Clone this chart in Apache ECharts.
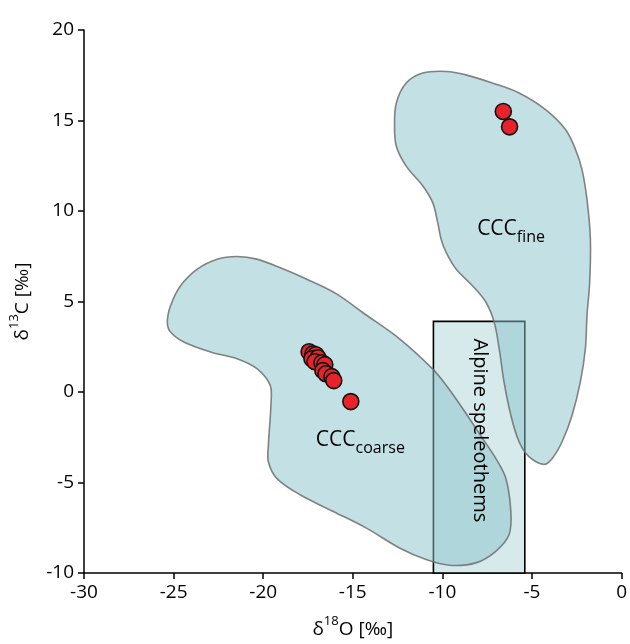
<!DOCTYPE html>
<html><head><meta charset="utf-8">
<script src="https://cdn.jsdelivr.net/npm/echarts@6/dist/echarts.min.js"></script>
<style>html,body{margin:0;padding:0;background:#fff}#c{width:630px;height:644px}</style>
</head><body><div id="c"></div>
<script>
// ---- data ----
const xTicks = [-30, -25, -20, -15, -10, -5, 0];
const yTicks = [-10, -5, 0, 5, 10, 15, 20];

const sampleX = [-17.44, -17.22, -17.06, -17.28, -16.94, -17.11, -16.72, -16.56, -16.67, -16.5, -16.17, -16.06, -15.11, -6.6, -6.25];
const sampleY = [2.22, 2.11, 2.06, 1.84, 1.89, 1.67, 1.62, 1.51, 1.18, 1.01, 0.85, 0.63, -0.53, 15.5, 14.65];

const coarseX = [-25.35,-25.17,-24.61,-23.68,-22.57,-21.46,-20.35,-18.87,-17.39,-15.91,-14.33,-12.39,-10.56,-9.79,-8.87,-7.76,-7.02,-6.46,-6.18,-6.28,-7.02,-8.13,-9.61,-10.91,-12.39,-14.24,-16.09,-17.94,-19.24,-19.71,-19.71,-19.57,-19.61,-20.35,-21.46,-22.94,-24.43,-25.17];
const coarseY = [3.86,4.77,5.87,6.79,7.34,7.49,7.34,6.79,6.15,5.42,4.31,2.94,1.29,0.37,-0.91,-2.56,-3.67,-4.77,-6.6,-7.89,-8.8,-9.44,-9.57,-9.26,-8.62,-7.52,-6.6,-5.68,-4.77,-3.85,-2.93,-0.73,0.37,1.29,1.84,2.21,2.76,3.31];

const fineX = [-12.67,-12.57,-12.02,-11.09,-9.79,-8.68,-7.21,-5.72,-4.24,-3.13,-2.57,-2.21,-1.93,-1.74,-1.78,-1.93,-2.02,-2.3,-2.76,-3.32,-3.87,-4.33,-5.17,-5.72,-6.18,-6.56,-6.83,-7.11,-7.57,-8.32,-9.24,-9.79,-10.07,-10.26,-10.54,-11.09,-12.02,-12.57];
const fineY = [14.68,15.97,17.07,17.62,17.71,17.52,17.07,16.52,15.6,14.5,13.4,12.3,10.64,8.44,6.06,4.22,2.39,0.56,-1.28,-2.75,-3.67,-4.0,-3.57,-2.75,-1.28,0.56,2.39,3.86,4.96,5.87,6.79,7.71,8.44,9.36,10.46,11.38,12.48,13.58];

const alpineX = [-10.5, -5.4];
const alpineY = [-10, 3.9];

// ---- layout (label anchors in data units) ----
const labelAnchors = [
  { key: 'coarse', x: -17.06, y: -2.67 },
  { key: 'fine', x: -8.06, y: 8.99 },
  { key: 'alpine', x: -7.94, y: -2.12 }
];

const FONT = '"Open Sans", "Noto Sans", sans-serif';
const blobs = [[coarseX, coarseY], [fineX, fineY]];

const chart = echarts.init(document.getElementById('c'), null, { renderer: 'canvas' });

const option = {
  animation: false,
  backgroundColor: '#fff',
  grid: { left: 83, right: 7, top: 30, bottom: 69 },
  xAxis: {
    type: 'value', min: xTicks[0], max: xTicks[xTicks.length - 1], interval: 5,
    splitLine: { show: false },
    axisLine: { onZero: false, lineStyle: { color: '#000', width: 1.5 } },
    axisTick: { length: 6, lineStyle: { color: '#000', width: 1.5 } },
    axisLabel: { color: '#000', fontSize: 19, fontFamily: FONT, margin: 10 },
    name: '{t|δ}{s|18}{t|O [‰]}',
    nameLocation: 'middle', nameGap: 42,
    nameTextStyle: {
      fontFamily: FONT, color: '#000',
      rich: {
        t: { fontSize: 19, fontFamily: FONT, color: '#000', lineHeight: 24, verticalAlign: 'bottom' },
        s: { fontSize: 13, fontFamily: FONT, color: '#000', lineHeight: 24, verticalAlign: 'top' }
      }
    }
  },
  yAxis: {
    type: 'value', min: yTicks[0], max: yTicks[yTicks.length - 1], interval: 5,
    splitLine: { show: false },
    axisLine: { onZero: false, lineStyle: { color: '#000', width: 1.5 } },
    axisTick: { length: 6, lineStyle: { color: '#000', width: 1.5 } },
    axisLabel: { color: '#000', fontSize: 19, fontFamily: FONT, margin: 10 },
    name: '{t|δ}{s|13}{t|C [‰]}',
    nameLocation: 'middle', nameGap: 52,
    nameTextStyle: {
      fontFamily: FONT, color: '#000',
      rich: {
        t: { fontSize: 19, fontFamily: FONT, color: '#000', lineHeight: 24, verticalAlign: 'bottom' },
        s: { fontSize: 13, fontFamily: FONT, color: '#000', lineHeight: 24, verticalAlign: 'top' }
      }
    }
  },
  series: [
    {
      type: 'custom', z: 1, silent: true,
      data: [[alpineX[0], alpineY[0], alpineX[1], alpineY[1]]],
      renderItem: function (params, api) {
        const p0 = api.coord([api.value(0), api.value(3)]);
        const p1 = api.coord([api.value(2), api.value(1)]);
        return {
          type: 'rect',
          shape: { x: p0[0], y: p0[1], width: p1[0] - p0[0], height: p1[1] - p0[1] },
          style: { fill: '#d6eaec', stroke: '#000', lineWidth: 1.6 }
        };
      }
    },
    {
      type: 'custom', z: 2, silent: true,
      data: [[0], [1]],
      renderItem: function (params, api) {
        const b = blobs[params.dataIndex];
        const pts = b[0].map((x, i) => api.coord([x, b[1][i]]));
        return {
          type: 'polygon',
          shape: { points: pts, smooth: 0.35 },
          style: { fill: 'rgba(135,193,201,0.5)', stroke: 'rgba(110,110,110,0.85)', lineWidth: 1.6 }
        };
      }
    },
    {
      type: 'custom', z: 3, silent: true,
      data: labelAnchors.map(a => [a.x, a.y]),
      renderItem: function (params, api) {
        const a = labelAnchors[params.dataIndex];
        const p = api.coord([api.value(0), api.value(1)]);
        if (a.key === 'alpine') {
          return {
            type: 'text', x: p[0], y: p[1], rotation: -Math.PI / 2,
            style: { text: 'Alpine speleothems', fontSize: 20, fontFamily: FONT, fill: '#000', align: 'center', verticalAlign: 'middle' }
          };
        }
        const sub = a.key === 'coarse' ? 'coarse' : 'fine';
        return {
          type: 'text', x: p[0], y: p[1],
          style: {
            text: '{a|CCC}{b|' + sub + '}', fill: '#000', align: 'left', verticalAlign: 'middle',
            fontFamily: FONT,
            rich: {
              a: { fontSize: 21, fontFamily: FONT, fill: '#000', lineHeight: 32, verticalAlign: 'middle' },
              b: { fontSize: 16, fontFamily: FONT, fill: '#000', lineHeight: 32, verticalAlign: 'bottom' }
            }
          }
        };
      }
    },
    {
      type: 'scatter', z: 4,
      data: sampleX.map((x, i) => [x, sampleY[i]]),
      symbol: 'circle', symbolSize: 16,
      itemStyle: { color: '#e8222a', borderColor: '#111', borderWidth: 1.6, opacity: 1 }
    }
  ]
};
chart.setOption(option);
</script>
</body></html>
